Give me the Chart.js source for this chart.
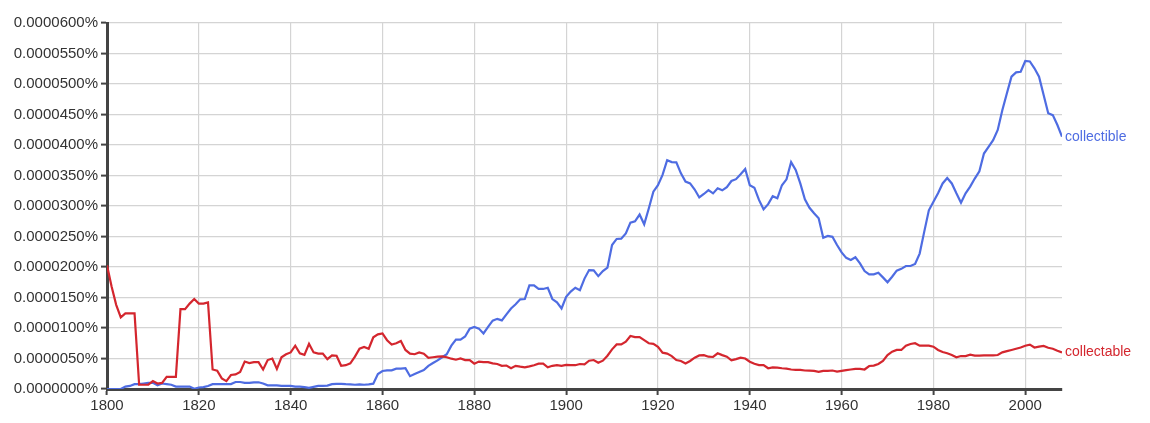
<!DOCTYPE html>
<html>
<head>
<meta charset="utf-8">
<script src="https://cdn.jsdelivr.net/npm/chart.js@4/dist/chart.umd.min.js"></script>
<style>
  html, body { margin: 0; padding: 0; background: #fff; }
  #wrap { width: 1150px; height: 423px; position: relative; }
</style>
</head>
<body>
<div id="wrap"><canvas id="ngram"></canvas></div>
<script>
// years 1800..2008, values in units of 0.0000001 %
const firstYear = 1800;
const lastYear = 2008;
const years = Array.from({ length: lastYear - firstYear + 1 }, (_, i) => firstYear + i);

const xTicks = [1800, 1820, 1840, 1860, 1880, 1900, 1920, 1940, 1960, 1980, 2000];
const yTicks = [0, 50, 100, 150, 200, 250, 300, 350, 400, 450, 500, 550, 600];

const collectible = [
  0, 0, 0, 0, 4, 5, 8, 8, 9, 10,                   // 1800
  10, 6, 9, 8, 7, 4, 4, 4, 4, 0.5,                 // 1810
  2.5, 3, 5, 8, 8, 8, 8, 8, 11.5, 11.5,            // 1820
  10, 10, 11, 11, 9, 6, 6, 6, 5, 5,                // 1830
  5, 4, 4, 3, 2, 3.5, 5, 5, 5.5, 8,                // 1840
  8.5, 8.5, 8, 7.7, 7, 7.7, 7, 7.7, 8.7, 24.6,     // 1850
  29.5, 30.6, 30.6, 33.3, 33.3, 34, 21, 24.6, 28, 31, // 1860
  38, 42.6, 47, 52, 57, 71, 81, 81, 86, 99,        // 1870
  101.6, 99, 91, 102, 112, 115, 112.5, 122.4, 132, 139, // 1880
  147, 147.5, 170, 170, 164, 164, 166, 147.5, 142, 132, // 1890
  151, 159.6, 166, 162, 181, 195, 194.5, 185, 193.4, 199, // 1900
  236, 246, 246.5, 255, 272.7, 275, 286, 270, 296, 323.5, // 1910
  334, 351, 375, 372, 371.6, 353.6, 340, 337, 327, 314,   // 1920
  319.7, 326, 320.7, 329, 325.7, 331, 341, 344, 352, 360.6, // 1930
  334, 330, 310, 294.5, 303, 316, 312.6, 334, 343.7, 372,  // 1940
  359, 337, 311, 297, 288, 280, 248, 251, 249.5, 236,      // 1950
  224, 215, 211.5, 216, 206, 193.4, 188, 188, 190.7, 183,  // 1960
  175, 184, 194, 197, 201.6, 201.6, 205, 222, 258, 293,    // 1970
  307, 320.8, 337, 346, 337, 320.8, 305.5, 320.8, 331.7, 345, // 1980
  357, 386, 397, 408, 424.6, 457, 484.7, 512, 519, 520,    // 1990
  537.7, 537, 525.7, 512, 482, 452, 449, 432.8, 413.6      // 2000
];

const collectable = [
  203, 168, 138, 117.5, 124, 124, 124, 7, 7, 7,    // 1800
  13, 9, 10, 20, 20, 20, 131, 131, 140, 147.5,     // 1810
  140, 140, 142, 32, 30, 17.5, 13, 23, 24, 28,     // 1820
  45, 42.6, 44, 44, 32, 47.5, 50, 33, 52, 57,      // 1830
  60, 71, 58.5, 56, 74, 60, 58, 58, 49, 55,        // 1840
  54.5, 38, 39, 42, 53, 66, 69, 66, 84.7, 89.6,    // 1850
  91, 80, 73, 75, 78.7, 64, 58, 57, 60, 58,        // 1860
  51, 52, 53, 53.5, 52, 49.7, 48, 50, 47.5, 47.5,  // 1870
  41.5, 45, 44, 44, 42, 41, 38, 38.5, 34, 38,      // 1880
  36.6, 35.5, 37, 39, 41.5, 41.5, 35.5, 38, 39, 38, // 1890
  39.5, 39.3, 39, 41, 40.4, 46.4, 47.5, 43, 46.4, 54.6, // 1900
  65, 73, 73, 77.6, 86.9, 85, 85, 80, 75, 74,      // 1910
  69, 59.6, 58, 54, 47.5, 46, 42, 46, 51.4, 55,    // 1920
  55.5, 53, 52.5, 58.5, 55.5, 53, 47, 49, 51.4, 50, // 1930
  44.8, 41.5, 39.3, 39.3, 34, 35.5, 35, 34, 33.5, 32, // 1940
  31.4, 31.4, 30.3, 30, 29.8, 28, 29.8, 29.8, 30.3, 28.5, // 1950
  29.8, 31, 32, 33, 33, 32, 37.7, 38.3, 41, 45.9,  // 1960
  55.7, 61.2, 64, 64, 71, 73.8, 75, 71, 71, 71,    // 1970
  69.4, 64, 60.7, 58.5, 55.7, 52, 54, 54, 56.3, 54.6, // 1980
  54.6, 55, 55, 55, 55.7, 60, 62, 64, 66, 68,      // 1990
  71, 72.7, 68, 69.4, 70.5, 67.6, 66, 62.8, 60     // 2000
];

const seriesNames = ["collectible", "collectable"];
const seriesColors = ["rgb(78,108,226)", "rgb(212,38,46)"];
const fontFamily = "'Liberation Sans', Arial, sans-serif";

const toPoints = vals => vals.map((v, i) => ({ x: years[i], y: v }));

// draws the word at the end of each line, like the ngram viewer
const endLabels = {
  id: "endLabels",
  afterDatasetsDraw(chart) {
    const ctx = chart.ctx;
    const xs = chart.scales.x;
    const ys = chart.scales.y;
    ctx.save();
    ctx.font = "14px " + fontFamily;
    ctx.textAlign = "left";
    ctx.textBaseline = "middle";
    chart.data.datasets.forEach(ds => {
      const last = ds.data[ds.data.length - 1];
      ctx.fillStyle = ds.borderColor;
      ctx.fillText(ds.label, xs.getPixelForValue(last.x) + 3, ys.getPixelForValue(last.y));
    });
    ctx.restore();
  }
};

new Chart(document.getElementById("ngram"), {
  type: "line",
  data: {
    datasets: [
      { label: seriesNames[1], data: toPoints(collectable), borderColor: seriesColors[1] },
      { label: seriesNames[0], data: toPoints(collectible), borderColor: seriesColors[0] }
    ]
  },
  options: {
    responsive: true,
    maintainAspectRatio: false,
    animation: false,
    layout: { padding: { top: 23, right: 88, bottom: 0, left: 0 } },
    elements: {
      line: { borderWidth: 2.2, tension: 0, fill: false },
      point: { radius: 0, hoverRadius: 0 }
    },
    plugins: { legend: { display: false }, tooltip: { enabled: false } },
    scales: {
      x: {
        type: "linear",
        min: firstYear,
        max: lastYear,
        afterBuildTicks: scale => { scale.ticks = xTicks.map(v => ({ value: v })); },
        afterFit: scale => { scale.height = 34; },
        border: { color: "#444", width: 3 },
        grid: { color: "#d4d4d4", lineWidth: 1.2, tickColor: "#444", tickLength: 6, tickWidth: 2 },
        ticks: {
          color: "#333",
          padding: 2,
          maxRotation: 0,
          font: { family: fontFamily, size: 15 },
          callback: v => String(v)
        }
      },
      y: {
        min: 0,
        max: 600,
        afterBuildTicks: scale => { scale.ticks = yTicks.map(v => ({ value: v })); },
        afterFit: scale => { scale.width = 107; },
        border: { color: "#444", width: 3 },
        grid: { color: "#d4d4d4", lineWidth: 1.2, tickColor: "#444", tickLength: 6, tickWidth: 2 },
        ticks: {
          color: "#333",
          padding: 3,
          font: { family: fontFamily, size: 15 },
          callback: v => (v / 1e7).toFixed(7) + "%"
        }
      }
    }
  },
  plugins: [endLabels]
});
</script>
</body>
</html>
